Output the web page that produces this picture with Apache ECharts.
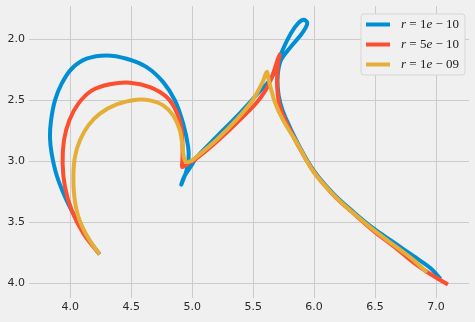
<!DOCTYPE html>
<html>
<head>
<meta charset="utf-8">
<script src="https://cdn.jsdelivr.net/npm/echarts@6/dist/echarts.min.js"></script>
<style>
  html, body { margin: 0; padding: 0; background: #f0f0f0; }
  #chart { width: 475px; height: 322px; }
</style>
</head>
<body>
<div id="chart"></div>
<script>
// Tick positions on both axes
const xTicks = [4.0, 4.5, 5.0, 5.5, 6.0, 6.5, 7.0];
const yTicks = [2.0, 2.5, 3.0, 3.5, 4.0];

// Series names (legend entries)
const seriesNames = ['r=1e-10', 'r=5e-10', 'r=1e-09'];

// Trajectories as [x, y] pairs, in path order
const trackR1e10 = [
  [4.230, 3.751], [4.134, 3.620], [4.038, 3.456], [3.956, 3.292], [3.888, 3.115],
  [3.847, 2.937], [3.833, 2.801], [3.842, 2.664], [3.874, 2.500], [3.929, 2.363],
  [4.011, 2.240], [4.134, 2.158], [4.298, 2.131], [4.462, 2.158], [4.626, 2.227],
  [4.762, 2.350], [4.858, 2.500], [4.926, 2.691], [4.967, 2.883], [4.970, 2.990],
  [4.954, 3.074], [4.927, 3.150], [4.910, 3.192], [4.935, 3.125], [4.995, 3.033],
  [5.033, 2.972], [5.196, 2.803], [5.360, 2.638], [5.523, 2.460], [5.646, 2.321],
  [5.690, 2.225], [5.741, 2.088], [5.809, 1.951], [5.870, 1.866], [5.915, 1.838],
  [5.944, 1.862], [5.930, 1.905], [5.891, 1.964], [5.809, 2.060], [5.728, 2.170],
  [5.703, 2.280], [5.702, 2.400], [5.722, 2.520], [5.764, 2.640], [5.866, 2.852],
  [6.000, 3.082], [6.163, 3.272], [6.327, 3.420], [6.490, 3.554], [6.654, 3.666],
  [6.817, 3.780], [6.954, 3.876], [7.027, 3.955]
];
const trackR5e10 = [
  [4.230, 3.751], [4.107, 3.593], [4.011, 3.402], [3.956, 3.210], [3.937, 3.019],
  [3.948, 2.828], [3.992, 2.664], [4.066, 2.527], [4.175, 2.420], [4.325, 2.368],
  [4.489, 2.355], [4.653, 2.391], [4.790, 2.473], [4.872, 2.596], [4.913, 2.746],
  [4.921, 2.910], [4.919, 3.000], [4.918, 3.048], [4.967, 3.019], [5.033, 2.978],
  [5.196, 2.843], [5.360, 2.690], [5.523, 2.526], [5.600, 2.420], [5.650, 2.320],
  [5.690, 2.200], [5.717, 2.122], [5.703, 2.200], [5.697, 2.300], [5.698, 2.400],
  [5.714, 2.530], [5.757, 2.648], [5.862, 2.858], [6.000, 3.090], [6.163, 3.282],
  [6.327, 3.432], [6.490, 3.574], [6.654, 3.699], [6.817, 3.832], [6.960, 3.930],
  [7.084, 4.004]
];
const trackR1e09 = [
  [4.230, 3.751], [4.134, 3.607], [4.066, 3.456], [4.033, 3.292], [4.025, 3.128],
  [4.038, 2.964], [4.079, 2.828], [4.148, 2.705], [4.243, 2.609], [4.380, 2.533],
  [4.544, 2.495], [4.653, 2.500], [4.762, 2.541], [4.844, 2.623], [4.899, 2.746],
  [4.921, 2.883], [4.932, 2.970], [4.952, 3.008], [4.995, 2.995], [5.033, 2.966],
  [5.196, 2.827], [5.360, 2.663], [5.496, 2.499], [5.578, 2.348], [5.612, 2.266],
  [5.628, 2.330], [5.650, 2.420], [5.680, 2.520], [5.740, 2.652], [5.860, 2.852],
  [5.995, 3.086], [6.163, 3.280], [6.327, 3.430], [6.490, 3.566], [6.654, 3.688],
  [6.817, 3.812], [6.913, 3.903]
];

const tracks = [trackR1e10, trackR5e10, trackR1e09];
const palette = ['#008fd5', '#fc4f30', '#e5ae38'];
const LINE_WIDTH = 4;

const chart = echarts.init(document.getElementById('chart'), null, { renderer: 'canvas' });

// Legend label: "r = 1e − 10" set as math-style text
function legendLabel(name) {
  const m = name.match(/^r=(\d+)e-(\d+)$/);
  return '{i|r}{n| = ' + m[1] + '}{i|e}{n| − ' + m[2] + '}';
}

// Each trajectory is one smooth polyline through its points, projected by the axes.
// (Cartesian line smoothing clamps control points per segment, which kinks
// curves that double back, so the path is drawn as a custom polyline.)
function trackRenderer(track, color) {
  return function (params, api) {
    if (params.dataIndex !== 0) return null;
    const pts = track.map(p => api.coord(p));
    return {
      type: 'polyline',
      shape: { points: pts, smooth: 0.34 },
      style: {
        fill: null,
        stroke: color,
        lineWidth: LINE_WIDTH,
        lineCap: 'square',
        lineJoin: 'round'
      },
      silent: true
    };
  };
}

const gridLine = { show: true, lineStyle: { color: '#cbcbcb', width: 1 } };
const tickLabel = { color: '#2a2a2a', fontFamily: 'DejaVu Sans', fontSize: 11 };

chart.setOption({
  backgroundColor: '#f0f0f0',
  animation: false,
  color: palette,
  grid: { left: 29, right: 6, top: 6, bottom: 24, containLabel: false },
  xAxis: {
    type: 'value',
    min: 3.661,
    max: 7.271,
    axisLine: { show: false },
    axisTick: { show: false, customValues: xTicks },
    axisLabel: Object.assign({ margin: 4, customValues: xTicks,
      formatter: v => v.toFixed(1) }, tickLabel),
    splitLine: gridLine
  },
  yAxis: {
    type: 'value',
    inverse: true,
    min: 1.725,
    max: 4.123,
    axisLine: { show: false },
    axisTick: { show: false, customValues: yTicks },
    axisLabel: Object.assign({ margin: 4, customValues: yTicks,
      formatter: v => v.toFixed(1) }, tickLabel),
    splitLine: gridLine
  },
  legend: {
    left: 361,
    top: 14,
    orient: 'vertical',
    icon: 'rect',
    itemWidth: 24,
    itemHeight: 4,
    itemGap: 5,
    padding: [3, 6, 3, 5],
    backgroundColor: '#f0f0f0',
    borderColor: '#d6d6d6',
    borderWidth: 1,
    borderRadius: 3,
    data: seriesNames,
    formatter: legendLabel,
    textStyle: {
      padding: [0, 0, 0, 6],
      lineHeight: 15,
      rich: {
        i: { fontFamily: 'Liberation Serif', fontStyle: 'italic', fontSize: 13, color: '#222', lineHeight: 15 },
        n: { fontFamily: 'Liberation Serif', fontSize: 13, color: '#222', lineHeight: 15 }
      }
    }
  },
  series: seriesNames.map((name, k) => ({
    name: name,
    type: 'custom',
    data: tracks[k],
    encode: { x: 0, y: 1 },
    renderItem: trackRenderer(tracks[k], palette[k]),
    itemStyle: { color: palette[k] },
    clip: true,
    z: 2 + k
  }))
});
</script>
</body>
</html>
